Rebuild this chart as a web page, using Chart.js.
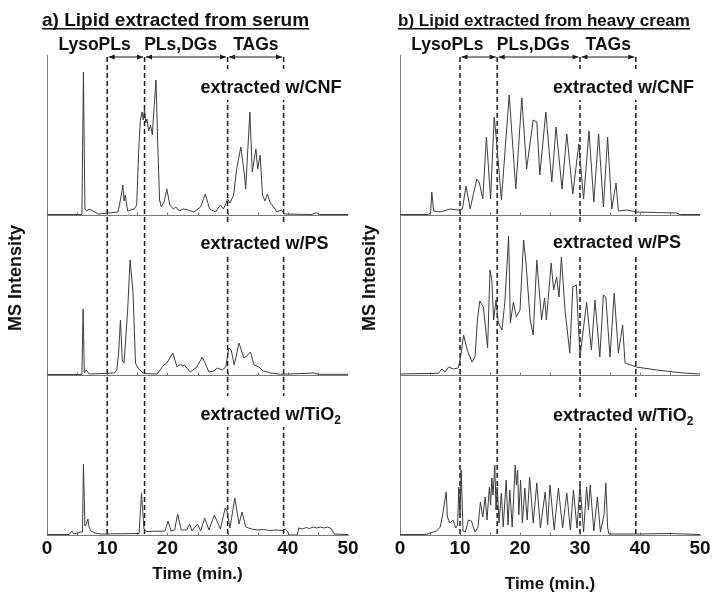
<!DOCTYPE html>
<html>
<head>
<meta charset="utf-8">
<script src="https://cdn.jsdelivr.net/npm/chart.js@4.4.1/dist/chart.umd.min.js"></script>
<style>
  html, body { margin: 0; padding: 0; background: #fff; }
  #wrap { position: relative; width: 713px; height: 594px; }
  canvas { position: absolute; left: 0; top: 0; }
</style>
</head>
<body>
<div id="wrap">
  <canvas id="serumChart" width="713" height="594"></canvas>
  <canvas id="creamChart" width="713" height="594"></canvas>
</div>
<script>
const FONT = "'Liberation Sans', Arial, Helvetica, sans-serif";
Chart.defaults.font.family = FONT;
Chart.defaults.color = '#111';

// retention-time windows (min.)
const regionBounds = [10, 16.2, 30, 39.3];
const regionNames = ['LysoPLs', 'PLs,DGs', 'TAGs'];
const regionNameAt = [7.9, 22.2, 34.7];

const traceLabels = ['extracted w/CNF', 'extracted w/PS', 'extracted w/TiO'];
const traceSubs = ['', '', '2'];
const traceLabelAt = 25.5;
const xTicks = [0, 10, 20, 30, 40, 50];

// a) serum
const serumCnfTime = [0, 5.8, 6.05, 6.3, 6.6, 7.0, 8.6, 11.8, 12.1, 12.4, 12.6, 12.8, 13.0, 13.4, 14.5, 14.9, 15.2, 15.5, 15.8, 16.0, 16.2, 16.4, 16.6, 16.9, 17.2, 17.5, 17.7, 18.1, 18.4, 18.7, 19.0, 19.5, 19.9, 20.4, 21.0, 21.4, 22.0, 22.6, 23.5, 24.4, 25.5, 26.3, 27.0, 28.0, 28.8, 29.3, 29.6, 30.0, 30.4, 31.0, 31.5, 32.2, 32.8, 33.0, 33.4, 33.7, 34.1, 34.4, 34.7, 35.0, 35.4, 35.8, 36.2, 36.6, 37.1, 37.4, 38.2, 38.9, 39.5, 44.0, 44.7, 45.3, 50];
const serumCnfIntensity = [0.5, 0.5, 143, 6, 4, 6, 1, 3, 12, 22, 30, 14, 20, 4, 6, 10, 60, 95, 103, 95, 106, 92, 96, 84, 90, 80, 100, 135, 70, 15, 8, 14, 26, 10, 6, 8, 4, 6, 5, 3, 8, 21, 6, 3, 10, 6, 10, 16, 12, 20, 46, 68, 40, 26, 70, 103, 43, 55, 66, 46, 60, 20, 14, 21, 12, 10, 3, 5, 1, 0.5, 2.5, 0.5, 0.5];

const serumPsTime = [0, 5.8, 6.0, 6.2, 6.5, 7.0, 11.2, 11.6, 11.9, 12.2, 12.5, 12.8, 13.4, 13.8, 14.3, 14.7, 15.2, 16.1, 18.3, 19.4, 19.9, 20.9, 21.6, 22.2, 22.5, 22.8, 23.8, 24.9, 25.8, 26.9, 27.7, 28.3, 29.1, 29.7, 30.2, 30.6, 31.1, 31.9, 32.7, 33.0, 33.8, 34.4, 35.2, 35.9, 37.2, 38.8, 44.4, 45.0, 50];
const serumPsIntensity = [0.5, 0.5, 66, 2, 5, 1, 2, 5, 22, 55, 15, 12, 65, 115, 82, 12, 6, 1.5, 1, 10, 12, 22, 8, 11, 9, 10, 3, 8, 18, 3, 4, 7, 5, 8, 27, 25, 10, 32, 17, 18, 23, 10, 8, 4, 2, 0.7, 2, 0.7, 0.7];

const serumTio2Time = [0, 3.7, 4.1, 4.5, 5.0, 5.6, 5.9, 6.05, 6.3, 6.6, 6.8, 7.0, 7.3, 8.0, 9.0, 15.3, 15.7, 16.1, 16.5, 19.6, 20.1, 20.6, 21.2, 21.7, 22.3, 23.2, 23.7, 24.1, 25.0, 25.5, 26.2, 26.9, 27.8, 28.8, 29.6, 29.9, 30.4, 31.2, 31.9, 32.4, 33.0, 34.0, 35.0, 36.0, 37.0, 38.0, 39.2, 39.6, 40.0, 40.2, 41.6, 41.8, 42.5, 43.0, 43.6, 44.2, 44.8, 45.4, 46.0, 46.6, 47.2, 47.7, 50];
const serumTio2Intensity = [0.5, 0.5, 4, 1, 2, 3, 3, 71, 9, 12, 16, 8, 4, 2, 1, 1.5, 42, 6, 3.5, 4, 14, 4, 5, 21, 5, 5, 11, 4, 11, 4, 17, 5, 20, 6, 27, 24, 7, 37, 11, 23, 8, 6, 5, 5.5, 4.5, 5, 4.5, 6, 3, 0, 0, 7, 6, 7.5, 6.5, 8, 7, 8, 7, 8, 6.5, 1, 0.5];

// b) heavy cream
const creamCnfTime = [0, 4.7, 5.1, 5.3, 5.6, 6.7, 8.3, 9.7, 10.4, 11.0, 11.7, 12.2, 12.8, 13.2, 13.8, 14.4, 15.1, 15.7, 15.9, 16.1, 16.9, 18.2, 19.3, 20.3, 21.1, 22.2, 22.8, 23.3, 24.3, 25.3, 26.0, 27.0, 27.8, 28.8, 29.8, 30.6, 31.5, 32.3, 33.1, 33.9, 34.6, 35.3, 36.0, 36.4, 37.8, 39.4, 46.1, 46.7, 50];
const creamCnfIntensity = [0.5, 0.5, 2, 23, 4, 3, 6, 5, 6, 29, 6, 20, 36, 33, 16, 78, 16, 98, 86, 73, 15, 120, 26, 117, 46, 95, 93, 40, 103, 33, 88, 26, 81, 21, 71, 16, 84, 13, 81, 8, 78, 6, 32, 4, 5, 3, 2, 0.5, 0.5];

const creamPsTime = [0, 6.4, 7.0, 7.5, 8.1, 8.9, 9.7, 10.1, 10.6, 11.2, 12.0, 12.5, 12.9, 13.3, 13.9, 14.6, 15.0, 15.3, 15.6, 16.0, 16.4, 17.0, 17.5, 18.1, 18.4, 18.9, 19.4, 20.0, 20.6, 21.0, 21.7, 22.2, 22.8, 23.2, 23.6, 24.1, 24.4, 25.2, 25.6, 26.1, 26.5, 26.9, 27.5, 28.3, 28.8, 29.4, 30.0, 31.1, 31.9, 32.5, 33.3, 33.9, 34.3, 35.0, 35.7, 36.4, 37.1, 37.5, 39.4, 42.8, 47.2, 50];
const creamPsIntensity = [1, 1.7, 6, 3, 8, 6, 7, 18, 40, 25, 13, 18, 55, 74, 68, 27, 105, 95, 55, 75, 52, 45, 75, 139, 52, 73, 58, 65, 135, 112, 55, 40, 115, 85, 55, 77, 55, 112, 85, 98, 78, 118, 65, 22, 88, 90, 18, 73, 25, 75, 18, 80, 78, 18, 82, 22, 50, 12, 8, 5, 2, 1];

const creamTio2Time = [0, 4.4, 5.0, 6.1, 6.7, 7.1, 7.7, 7.9, 8.3, 8.8, 9.3, 9.6, 9.8, 10.0, 10.2, 10.5, 10.9, 11.4, 11.9, 12.5, 13.0, 13.4, 13.8, 14.2, 14.5, 14.9, 15.1, 15.3, 15.5, 15.8, 16.0, 16.2, 16.5, 16.9, 17.2, 17.7, 18.0, 18.3, 18.7, 19.2, 19.4, 19.6, 19.8, 20.1, 20.4, 20.8, 21.2, 21.6, 22.2, 22.8, 23.4, 24.2, 24.6, 25.0, 25.7, 26.4, 27.1, 27.8, 28.4, 28.9, 29.5, 30.0, 30.6, 31.1, 31.4, 31.7, 32.3, 32.9, 33.4, 34.0, 34.3, 34.6, 34.8, 40, 45, 50];
const creamTio2Intensity = [0.5, 0.5, 2, 4, 8, 20, 43, 18, 12, 15, 7, 10, 48, 20, 65, 4, 3, 15, 14, 3, 8, 33, 18, 38, 15, 48, 30, 57, 40, 70, 25, 48, 12, 42, 8, 55, 10, 45, 8, 70, 50, 65, 20, 55, 12, 47, 15, 58, 12, 52, 7, 43, 10, 50, 5, 47, 7, 42, 5, 45, 7, 50, 3, 48, 25, 50, 4, 38, 3, 20, 52, 8, 1, 1, 1.5, 0.5];

function drawArrowHead(ctx, x, y, dir) {
  ctx.beginPath();
  ctx.moveTo(x, y);
  ctx.lineTo(x - dir * 6, y - 2.5);
  ctx.lineTo(x - dir * 6, y + 2.5);
  ctx.closePath();
  ctx.fill();
}

const panelDecor = {
  id: 'panelDecor',
  beforeDatasetsDraw(chart, args, opts) {
    const { ctx, chartArea, scales } = chart;
    const x = scales.x;
    ctx.save();
    // panel separators with small inward ticks every 5 min
    ctx.strokeStyle = '#7a7a7a';
    ctx.lineWidth = 1;
    ['y1', 'y2', 'y3'].forEach((id, i) => {
      const yb = Math.round(scales[id].bottom) + 0.5;
      ctx.beginPath();
      if (i < 2) {
        ctx.moveTo(chartArea.left, yb);
        ctx.lineTo(chartArea.right, yb);
      }
      for (let t = 5; t < 50; t += 5) {
        const px = Math.round(x.getPixelForValue(t)) + 0.5;
        ctx.moveTo(px, yb);
        ctx.lineTo(px, yb - 3);
      }
      ctx.stroke();
    });
    // dashed window bounds
    ctx.strokeStyle = '#1a1a1a';
    ctx.lineWidth = 1.5;
    ctx.setLineDash([5, 3]);
    ctx.beginPath();
    regionBounds.forEach(b => {
      const px = x.getPixelForValue(b);
      ctx.moveTo(px, opts.arrowY);
      ctx.lineTo(px, chartArea.bottom);
    });
    ctx.stroke();
    ctx.setLineDash([]);
    // double arrows between bounds
    ctx.lineWidth = 1;
    ctx.fillStyle = '#1a1a1a';
    for (let i = 0; i < regionBounds.length - 1; i++) {
      const a = x.getPixelForValue(regionBounds[i]) + 1.5;
      const b = x.getPixelForValue(regionBounds[i + 1]) - 1.5;
      ctx.beginPath();
      ctx.moveTo(a, opts.arrowY);
      ctx.lineTo(b, opts.arrowY);
      ctx.stroke();
      drawArrowHead(ctx, a, opts.arrowY, -1);
      drawArrowHead(ctx, b, opts.arrowY, 1);
    }
    ctx.restore();
  },
  afterDraw(chart, args, opts) {
    const { ctx, scales } = chart;
    const x = scales.x;
    ctx.save();
    ctx.fillStyle = '#111';
    ctx.textBaseline = 'alphabetic';

    // panel title, underlined
    ctx.font = `bold ${opts.titleSize}px ${FONT}`;
    ctx.textAlign = 'left';
    ctx.fillText(opts.title, opts.titleX, opts.titleY);
    const tw = ctx.measureText(opts.title).width;
    ctx.fillRect(opts.titleX, opts.titleY + 2, tw, 1.5);

    // window names
    ctx.font = `bold 17.5px ${FONT}`;
    ctx.textAlign = 'center';
    regionNames.forEach((name, i) => {
      ctx.fillText(name, x.getPixelForValue(regionNameAt[i]), opts.regionY);
    });

    // trace labels on white boxes
    ctx.textAlign = 'left';
    ['y1', 'y2', 'y3'].forEach((id, i) => {
      const left = x.getPixelForValue(traceLabelAt);
      const base = scales[id].getPixelForValue(opts.labelHeights[i]);
      ctx.font = `bold 18px ${FONT}`;
      const mw = ctx.measureText(traceLabels[i]).width;
      ctx.font = `bold 12px ${FONT}`;
      const sw = traceSubs[i] ? ctx.measureText(traceSubs[i]).width : 0;
      ctx.fillStyle = '#fff';
      ctx.fillRect(left - 3, base - 24, mw + sw + 6, 31);
      ctx.fillStyle = '#111';
      ctx.font = `bold 18px ${FONT}`;
      ctx.fillText(traceLabels[i], left, base);
      if (traceSubs[i]) {
        ctx.font = `bold 12px ${FONT}`;
        ctx.fillText(traceSubs[i], left + mw, base + 4);
      }
    });

    // y title
    ctx.translate(opts.yTitleX, opts.yTitleY);
    ctx.rotate(-Math.PI / 2);
    ctx.font = `bold 18px ${FONT}`;
    ctx.textAlign = 'center';
    ctx.textBaseline = 'middle';
    ctx.fillText(opts.yTitle, 0, 0);
    ctx.restore();
  }
};

function yAxis(weight) {
  return {
    type: 'linear',
    position: 'left',
    stack: 'ms',
    stackWeight: 1,
    weight: weight,
    min: 0,
    max: 160,
    grid: { display: false, drawTicks: false },
    border: { display: true, color: '#7a7a7a', width: 1 },
    ticks: { display: false },
    afterFit: s => { s.width = 47; }
  };
}

function makePanel(canvasId, series, panel) {
  const datasets = series.map((s, i) => ({
    data: s.time.map((t, j) => ({ x: t, y: s.intensity[j] })),
    yAxisID: 'y' + (i + 1),
    borderColor: '#3c3c3c',
    borderWidth: 1,
    pointRadius: 0,
    tension: 0,
    fill: false
  }));

  new Chart(document.getElementById(canvasId), {
    type: 'line',
    data: { datasets },
    options: {
      responsive: false,
      animation: false,
      layout: { padding: panel.padding },
      plugins: {
        legend: { display: false },
        tooltip: { enabled: false },
        panelDecor: panel.decor
      },
      scales: {
        x: {
          type: 'linear',
          min: 0,
          max: 50,
          grid: { display: false, drawTicks: false },
          border: { display: true, color: '#7a7a7a', width: 1 },
          afterBuildTicks: s => { s.ticks = xTicks.map(v => ({ value: v })); },
          ticks: {
            font: { size: 19, weight: 'bold' },
            color: '#111',
            padding: 2,
            maxRotation: 0,
            autoSkip: false
          },
          title: {
            display: true,
            text: 'Time (min.)',
            font: { size: 17, weight: 'bold' },
            color: '#111',
            padding: panel.xTitlePadding
          },
          afterFit: s => { s.height = 59; }
        },
        y1: yAxis(3),
        y2: yAxis(2),
        y3: yAxis(1)
      }
    },
    plugins: [panelDecor]
  });
}

makePanel('serumChart', [
  { time: serumCnfTime, intensity: serumCnfIntensity },
  { time: serumPsTime, intensity: serumPsIntensity },
  { time: serumTio2Time, intensity: serumTio2Intensity }
], {
  padding: { top: 55, left: 0, right: 365, bottom: 0 },
  xTitlePadding: { top: 0, bottom: 9 },
  decor: {
    title: 'a) Lipid extracted from serum', titleSize: 19, titleX: 42, titleY: 26,
    regionY: 50, arrowY: 57,
    labelHeights: [122, 126, 115],
    yTitle: 'MS Intensity', yTitleX: 16, yTitleY: 278
  }
});

makePanel('creamChart', [
  { time: creamCnfTime, intensity: creamCnfIntensity },
  { time: creamPsTime, intensity: creamPsIntensity },
  { time: creamTio2Time, intensity: creamTio2Intensity }
], {
  padding: { top: 55, left: 353, right: 13, bottom: 0 },
  xTitlePadding: { top: 0, bottom: -1 },
  decor: {
    title: 'b) Lipid extracted from heavy cream', titleSize: 17, titleX: 398, titleY: 26,
    regionY: 50, arrowY: 57,
    labelHeights: [122, 127, 114],
    yTitle: 'MS Intensity', yTitleX: 370, yTitleY: 278
  }
});
</script>
</body>
</html>
